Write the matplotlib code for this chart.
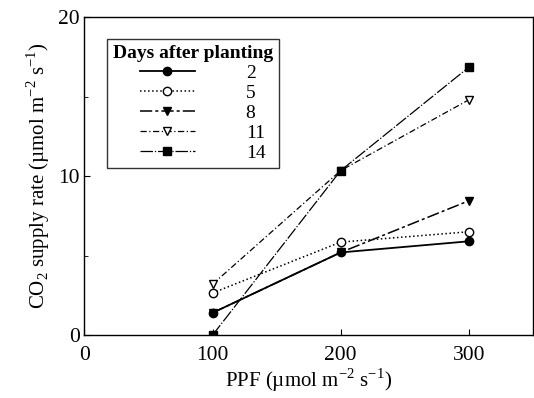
import matplotlib.pyplot as plt

plt.rcParams["font.family"] = ["Liberation Serif", "DejaVu Serif"]
plt.rcParams["mathtext.fontset"] = "custom"
plt.rcParams["mathtext.rm"] = "Liberation Serif"

PPF = [100, 200, 300]
DAYS = ["2", "5", "8", "11", "14"]
RATE_2 = [1.4, 5.2, 5.9]
RATE_5 = [2.65, 5.85, 6.5]
RATE_8 = [1.4, 5.2, 8.45]
RATE_11 = [3.2, 10.35, 14.8]
RATE_14 = [0.0, 10.35, 16.85]

fig = plt.figure(figsize=(5.34, 3.98), dpi=100)
ax = fig.add_axes([0.158, 0.158, 0.84, 0.799])

ms = 6
ax.plot(PPF, RATE_2, "-", color="black", lw=1.3, marker="o", ms=ms, label=DAYS[0])
ax.plot(PPF, RATE_5, ":", color="black", lw=1.1, marker="o", ms=ms, mfc="white", label=DAYS[1])
ax.plot(PPF, RATE_8, color="black", lw=1.1, ls=(0, (8, 2, 2, 2)), marker="v", ms=ms, label=DAYS[2])
ax.plot(PPF, RATE_11, color="black", lw=0.9, ls=(0, (5, 2, 1, 2)), marker="v", ms=ms, mfc="white", label=DAYS[3])
ax.plot(PPF, RATE_14, color="black", lw=0.9, ls=(0, (10, 1.5, 1, 1.5)), marker="s", ms=5.5, label=DAYS[4])

ax.set_xlim(0, 350)
ax.set_ylim(0, 20)
ax.set_xticks([0, 100, 200, 300])
ax.set_yticks([0, 10, 20])
ax.set_yticks([5, 15], minor=True)
ax.tick_params(direction="in", labelsize=15.5, length=4)
ax.tick_params(which="minor", direction="in", length=3)
ax.tick_params(axis="x", pad=8)
for s in ax.spines.values():
    s.set_linewidth(1.0)

ax.set_xlabel("PPF (µmol m$^{-2}$ s$^{-1}$)", fontsize=15, labelpad=1)
ax.set_ylabel("CO$_2$ supply rate (µmol m$^{-2}$ s$^{-1}$)", fontsize=15)

leg = ax.legend(title="Days after planting", loc="upper left", bbox_to_anchor=(0.05, 0.93),
                borderaxespad=0, fontsize=14, frameon=True, fancybox=False, edgecolor="black",
                handlelength=2.8, markerfirst=True, borderpad=0.3, labelspacing=0.12,
                handletextpad=1.6)
leg.get_title().set_fontweight("bold")
leg.get_title().set_fontsize(14)
leg.get_frame().set_linewidth(1.0)
for t in leg.get_texts():
    t.set_ha("right")
    t.set_position((20, 0))

fig.savefig("out.png", dpi=100)
